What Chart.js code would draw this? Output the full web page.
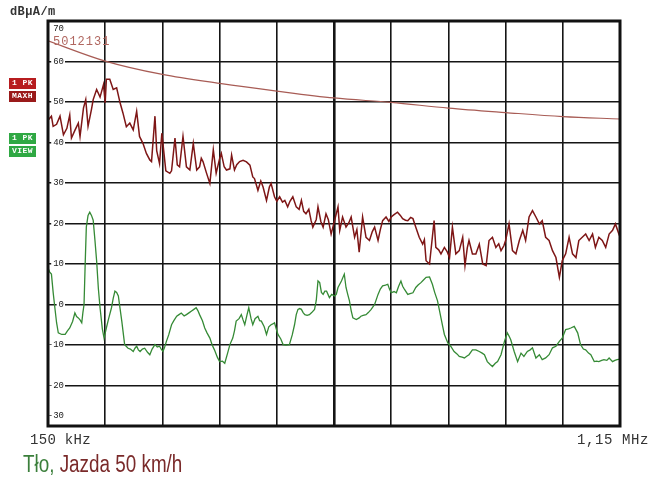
<!DOCTYPE html>
<html>
<head>
<meta charset="utf-8">
<script src="https://cdn.jsdelivr.net/npm/chart.js@4"></script>
<style>
    body { margin: 0; background: #fff; }
    #wrap { position: relative; width: 651px; height: 477px; overflow: hidden; }
    #wrap canvas { position: absolute; left: 0; top: 0; }
    .lbl { position: absolute; white-space: nowrap; font-family: "Liberation Mono", "DejaVu Sans Mono", monospace; }
    .box { position: absolute; left: 9px; width: 27px; height: 11px; line-height: 11px; color: #fff;
           font: bold 8px "Liberation Mono", monospace; text-align: center; letter-spacing: 0.5px; }
</style>
</head>
<body>
<div id="wrap">
    <canvas id="emiChart" width="651" height="477"></canvas>
    <div class="lbl" style="left:10px; top:5px; font-size:12px; font-weight:bold; color:#333; letter-spacing:0.4px;">dBµA/m</div>
    <div class="box" style="top:78px; background:#b71c1f;">1 PK</div>
    <div class="box" style="top:91px; background:#9a1a1a;">MAXH</div>
    <div class="box" style="top:133px; background:#2fa843;">1 PK</div>
    <div class="box" style="top:146px; background:#2fa843;">VIEW</div>
    <div class="lbl" style="left:53px; top:35px; font-size:12px; color:#b0665f; letter-spacing:1px;">5012131</div>
    <div class="lbl" style="left:30px; top:432px; font-size:14px; color:#333; letter-spacing:0.3px;">150 kHz</div>
    <div class="lbl" style="left:577px; top:432px; font-size:14px; color:#333; letter-spacing:0.6px;">1,15 MHz</div>
    <div class="lbl" style="left:23px; top:451px; font-family:'Liberation Sans','Arial',sans-serif; font-size:23px; transform:scaleX(0.82); transform-origin:left top;">
        <span style="color:#3b7f3b;">Tło,</span> <span style="color:#7a2a2a;">Jazda 50 km/h</span>
    </div>
</div>
<script>
// siatka i osie
const xGridKHz = [150, 250, 350, 450, 550, 650, 750, 850, 950, 1050, 1150];
const yTicks = [70, 60, 50, 40, 30, 20, 10, 0, -10, -20, -30];

// linia graniczna
const limitFreq = [150, 250, 350, 450, 550, 650, 750, 850, 950, 1050, 1150];
const limitLevel = [65.1, 60.1, 56.8, 54.6, 52.7, 51.0, 49.9, 48.5, 47.4, 46.4, 45.8];

// 1 PK MAXH (czerwony)
const maxhFreq = [150, 156, 159, 165, 171, 177, 183, 188, 191, 197, 203, 206, 212, 216, 220, 226, 229, 235, 241, 247,
    250, 252, 258, 264, 270, 276, 281, 287, 293, 299, 305, 310, 316, 322, 328, 331, 337, 340, 345, 349,
    356, 363, 366, 372, 376, 380, 386, 392, 398, 404, 410, 415, 418, 421, 427, 433, 439, 444, 450, 453,
    458, 462, 468, 471, 476, 480, 485, 491, 497, 503, 508, 511, 517, 522, 526, 532, 537, 540, 546, 550,
    555, 560, 564, 569, 573, 578, 584, 589, 593, 597, 601, 606, 610, 613, 619, 622, 627, 631, 636, 640,
    645, 651, 657, 660, 665, 671, 676, 680, 686, 690, 694, 700, 706, 712, 717, 721, 727, 731, 735, 741,
    746, 750, 755, 761, 766, 770, 775, 779, 784, 788, 793, 799, 805, 808, 811, 817, 825, 828, 833, 837,
    843, 848, 852, 857, 863, 869, 875, 879, 883, 886, 892, 898, 904, 910, 916, 921, 927, 933, 938, 942,
    947, 950, 956, 962, 968, 974, 980, 985, 991, 997, 1003, 1009, 1014, 1020, 1026, 1032, 1038, 1044, 1049, 1055,
    1061, 1067, 1073, 1078, 1084, 1090, 1096, 1102, 1107, 1113, 1119, 1125, 1131, 1137, 1142, 1148, 1150];
const maxhLevel = [45.5, 46.5, 44.0, 44.5, 46.5, 41.9, 43.5, 46.8, 41.1, 43.0, 44.8, 41.5, 48.5, 50.6, 44.0, 48.2, 50.6, 53.1, 51.2, 54.3,
    49.8, 55.6, 55.6, 53.1, 53.5, 49.8, 47.3, 43.9, 44.8, 43.1, 47.7, 41.5, 39.8, 37.3, 35.7, 35.3, 46.5, 38.0, 34.8, 42.3,
    33.0, 32.4, 33.0, 41.1, 34.5, 34.0, 41.5, 34.0, 33.2, 39.8, 33.2, 34.0, 36.1, 35.3, 32.5, 29.9, 38.2, 32.4, 36.0, 37.3,
    34.0, 33.2, 33.5, 36.9, 33.2, 34.5, 35.3, 35.6, 35.2, 34.4, 31.5, 31.1, 28.2, 30.5, 29.0, 25.7, 29.0, 29.9, 26.6, 25.5,
    26.6, 25.3, 25.7, 24.1, 25.5, 26.6, 24.1, 23.5, 25.7, 23.0, 22.4, 23.5, 20.7, 19.1, 21.0, 24.1, 20.5, 19.1, 22.4, 21.0,
    17.4, 20.7, 24.1, 18.3, 21.6, 19.1, 20.2, 21.6, 16.6, 18.5, 12.9, 21.6, 16.6, 15.8, 18.0, 19.1, 15.8, 18.5, 20.7, 21.6,
    20.5, 21.6, 22.2, 22.8, 22.0, 21.2, 20.8, 20.7, 21.5, 21.2, 19.1, 16.6, 14.9, 16.0, 10.8, 10.0, 20.7, 14.1, 13.5, 12.5,
    14.1, 13.0, 11.6, 19.1, 12.5, 13.3, 16.6, 9.6, 14.0, 15.8, 12.5, 12.5, 14.9, 10.0, 9.6, 15.8, 16.6, 14.1, 15.0, 13.3,
    14.5, 15.8, 19.9, 13.3, 12.5, 15.8, 18.3, 15.8, 21.6, 23.2, 21.6, 19.9, 20.7, 16.6, 15.8, 13.3, 11.6, 6.7, 10.8, 12.5,
    16.6, 12.5, 11.6, 15.8, 16.6, 17.4, 15.8, 17.4, 14.1, 16.6, 15.8, 14.1, 17.4, 18.3, 19.9, 17.4, 18.0];

// 1 PK VIEW (zielony)
const viewFreq = [150, 153, 156, 159, 162, 165, 168, 174, 180, 184, 188, 193, 197, 200, 203, 206, 209, 211, 213, 215,
    217, 220, 223, 226, 229, 232, 235, 238, 241, 245, 248, 252, 256, 261, 264, 267, 270, 273, 276, 279,
    284, 290, 294, 299, 302, 305, 308, 311, 315, 319, 324, 328, 332, 337, 341, 345, 348, 351, 354, 357,
    361, 366, 370, 375, 379, 383, 388, 392, 397, 401, 405, 409, 412, 415, 420, 424, 428, 433, 437, 441,
    446, 450, 455, 459, 464, 468, 473, 476, 479, 484, 488, 491, 494, 498, 501, 505, 508, 512, 517, 520,
    523, 528, 532, 536, 540, 543, 546, 549, 552, 557, 561, 566, 572, 577, 581, 584, 587, 590, 593, 596,
    599, 603, 607, 611, 616, 619, 622, 625, 628, 631, 634, 637, 642, 646, 651, 654, 657, 660, 663, 668,
    671, 674, 677, 680, 683, 689, 694, 697, 701, 706, 710, 715, 718, 721, 727, 731, 735, 740, 744, 747,
    750, 755, 759, 763, 767, 770, 773, 779, 783, 788, 793, 797, 802, 806, 811, 817, 822, 826, 831, 834,
    837, 840, 843, 849, 854, 860, 865, 869, 874, 878, 882, 886, 892, 898, 904, 909, 913, 918, 923, 927,
    932, 936, 942, 948, 953, 956, 959, 965, 971, 977, 982, 988, 993, 997, 1003, 1009, 1014, 1020, 1026, 1032,
    1038, 1044, 1049, 1055, 1060, 1064, 1070, 1073, 1076, 1081, 1086, 1090, 1095, 1099, 1105, 1109, 1113, 1118, 1122, 1127,
    1131, 1137, 1141, 1145, 1150];
const viewLevel = [9.0, 8.0, 7.5, 3.0, -0.8, -4.5, -7.0, -7.4, -7.4, -6.5, -5.8, -4.2, -2.1, -3.0, -3.3, -3.8, -4.5, -2.0, 0.0, 10.0,
    19.1, 22.0, 22.8, 22.0, 20.8, 16.0, 10.8, 4.0, -0.8, -6.0, -8.3, -5.8, -3.5, -0.8, 1.5, 3.3, 3.0, 2.1, -1.0, -4.1,
    -9.9, -10.8, -11.0, -11.6, -10.8, -10.3, -11.2, -11.6, -11.0, -10.8, -11.8, -12.4, -11.0, -9.9, -10.5, -10.3, -11.0, -11.6, -10.5, -9.1,
    -7.5, -5.0, -4.0, -2.9, -2.5, -2.1, -2.8, -2.5, -2.0, -1.6, -1.2, -0.8, -1.5, -2.5, -4.0, -5.8, -7.0, -8.3, -10.0, -11.2,
    -13.0, -14.1, -14.0, -14.5, -12.0, -9.9, -8.3, -6.5, -4.1, -3.5, -2.5, -3.8, -5.0, -2.5, -0.8, -3.5, -5.0, -3.5, -2.9, -4.0,
    -4.1, -5.5, -7.4, -5.5, -5.0, -4.8, -4.5, -6.0, -7.4, -8.5, -9.9, -10.0, -9.9, -7.5, -5.0, -2.5, -1.2, -1.0, -1.2, -2.0,
    -2.5, -2.7, -2.5, -2.0, -1.2, 1.0, 5.8, 5.4, 3.0, 2.5, 3.3, 3.3, 1.7, 2.5, 2.1, 2.5, 4.2, 5.0, 5.8, 7.5,
    4.2, 2.5, 0.9, -1.5, -3.3, -3.7, -3.3, -2.9, -2.7, -2.5, -2.0, -1.2, -0.6, 0.0, 2.5, 3.8, 4.6, 4.8, 5.0, 3.8,
    2.9, 3.2, 2.9, 4.5, 5.8, 4.5, 3.8, 2.5, 2.7, 2.9, 4.2, 4.8, 5.4, 6.0, 6.7, 6.8, 5.0, 3.0, 0.9, -1.2,
    -3.3, -5.4, -7.4, -9.5, -10.3, -11.6, -12.2, -12.8, -13.0, -13.2, -12.8, -12.4, -11.2, -11.2, -11.6, -12.0, -12.4, -14.1, -14.8, -15.3,
    -14.5, -14.1, -12.4, -9.1, -7.0, -7.8, -8.7, -11.6, -14.1, -12.0, -12.8, -11.6, -11.2, -10.7, -13.2, -12.4, -13.6, -13.2, -12.4, -10.7,
    -10.3, -9.1, -8.3, -6.2, -6.0, -5.8, -5.4, -6.2, -7.0, -9.9, -11.0, -11.2, -12.0, -12.4, -14.1, -14.0, -14.1, -13.8, -13.6, -13.8,
    -13.2, -14.1, -13.8, -13.6, -13.5];

function toPoints(xs, ys) {
    return xs.map((x, i) => ({ x: x, y: ys[i] }));
}

// etykiety osi Y rysowane wewnątrz pola wykresu, na białym tle
const yLabelsPlugin = {
    id: 'yLabels',
    afterDatasetsDraw(chart) {
        const ctx = chart.ctx;
        const area = chart.chartArea;
        const yScale = chart.scales.y;
        ctx.save();
        ctx.font = '9px "Liberation Mono", monospace';
        ctx.textAlign = 'right';
        ctx.textBaseline = 'middle';
        yTicks.forEach(v => {
            let py = yScale.getPixelForValue(v);
            if (v === yTicks[0]) py = area.top + 8;
            if (v === yTicks[yTicks.length - 1]) py = area.bottom - 10;
            const text = String(v);
            const w = ctx.measureText(text).width;
            ctx.fillStyle = '#fff';
            ctx.fillRect(area.left + 15 - w - 1, py - 4, w + 3, 8);
            ctx.fillStyle = '#222';
            ctx.fillText(text, area.left + 16, py);
        });
        // ramka
        ctx.strokeStyle = '#111';
        ctx.lineWidth = 3;
        ctx.strokeRect(area.left, area.top, area.right - area.left, area.bottom - area.top);
        ctx.restore();
    }
};

const ctx = document.getElementById('emiChart').getContext('2d');
new Chart(ctx, {
    type: 'line',
    data: {
        datasets: [
            {
                label: 'Limit',
                data: toPoints(limitFreq, limitLevel),
                borderColor: '#a85c55',
                borderWidth: 1.2,
                pointRadius: 0,
                cubicInterpolationMode: 'monotone'
            },
            {
                label: '1 PK MAXH',
                data: toPoints(maxhFreq, maxhLevel),
                borderColor: '#7e1616',
                borderWidth: 1.5,
                pointRadius: 0,
                tension: 0
            },
            {
                label: '1 PK VIEW',
                data: toPoints(viewFreq, viewLevel),
                borderColor: '#358a35',
                borderWidth: 1.3,
                pointRadius: 0,
                tension: 0
            }
        ]
    },
    options: {
        responsive: false,
        animation: false,
        layout: { padding: { left: 48, right: 31, top: 21, bottom: 51 } },
        scales: {
            x: {
                type: 'linear',
                min: 150,
                max: 1150,
                afterBuildTicks: axis => { axis.ticks = xGridKHz.map(v => ({ value: v })); },
                ticks: { display: false },
                border: { display: false },
                grid: {
                    drawTicks: false,
                    color: '#151515',
                    lineWidth: c => (c.tick && c.tick.value === 650 ? 2.6 : 1.6)
                }
            },
            y: {
                min: -30,
                max: 70,
                afterBuildTicks: axis => { axis.ticks = yTicks.map(v => ({ value: v })); },
                ticks: { display: false },
                border: { display: false },
                grid: { drawTicks: false, color: '#151515', lineWidth: 1.6 }
            }
        },
        plugins: {
            legend: { display: false },
            tooltip: { enabled: false }
        }
    },
    plugins: [yLabelsPlugin]
});
</script>
</body>
</html>
